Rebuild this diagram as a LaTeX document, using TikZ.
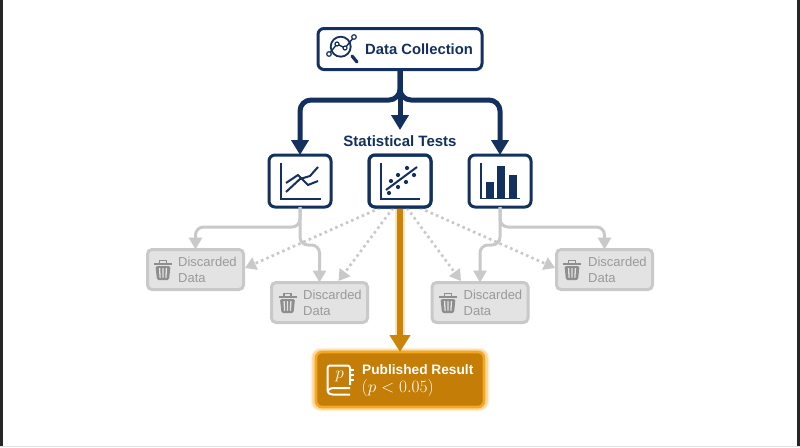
\documentclass[tikz,border=0pt]{standalone}
\usepackage{fontspec}
\setmainfont{Liberation Sans}
\usetikzlibrary{arrows.meta,calc}
\definecolor{navy}{HTML}{14305F}
\definecolor{gline}{HTML}{C9C9C9}
\definecolor{gfill}{HTML}{E3E3E3}
\definecolor{gtext}{HTML}{9A9A9A}
\definecolor{gicon}{HTML}{8E8E8E}
\definecolor{ofill}{HTML}{C47D06}
\definecolor{oline}{HTML}{F5A81F}
\definecolor{oarrow}{HTML}{CC8408}
\tikzset{
  x=1pt,y=-1pt,
  navybox/.style={draw=navy,line width=3pt,fill=white,rounded corners=6pt,outer sep=0pt,inner sep=0pt},
  chartbox/.style={navybox,minimum width=62pt,minimum height=52pt},
  discardbox/.style={draw=gline,line width=3pt,fill=gfill,rounded corners=4.5pt,outer sep=0pt,inner sep=0pt,minimum width=96pt,minimum height=40pt},
  discardtext/.style={text=gtext,font=\fontsize{13}{15.8}\selectfont,align=left,anchor=west,inner sep=0pt},
  navyarrow/.style={draw=navy,line width=5pt,rounded corners=11pt,-{Triangle[length=15pt,width=17pt]}},
  grayarrow/.style={draw=gline,line width=3pt,rounded corners=8pt,-{Triangle[length=12pt,width=13pt]}},
  dotarrow/.style={draw=gline,line width=2.6pt,dash pattern=on 2.6pt off 3.2pt,-{Triangle[length=11pt,width=13pt,fill=gline]}},
  axisline/.style={draw=navy,line width=1.8pt},
  curveline/.style={draw=navy,line width=2pt,line join=round},
  trash/.pic={
    \draw[gicon,line width=1.4pt] (-3.6,3.5) -- (-3.6,0.7) -- (3.6,0.7) -- (3.6,3.5);
    \draw[gicon,line width=2.2pt] (-9,4) -- (9,4) ;
    \fill[gicon,rounded corners=1.5pt] (-7.5,6) -- (7.5,6) -- (6,20) -- (-6,20) -- cycle;
    \draw[gfill,line width=1.3pt,line cap=round] (-3.4,8.5) -- (-2.9,17.3) (0,8.5) -- (0,17.3) (3.4,8.5) -- (2.9,17.3);
  },
}
\begin{document}
\begin{tikzpicture}
\useasboundingbox (0,0) rectangle (800,447);
\fill[white] (0,0) rectangle (800,447);
\fill[black!85] (0,0) rectangle (2.5,447);
\fill[black!85] (796.5,0) rectangle (800,447);
\fill[black!12] (0,446) rectangle (800,447);

% nodes
\node[navybox,minimum width=164pt,minimum height=41pt] (dc) at (400,49) {};
\node[chartbox] (c1) at (300,181) {};
\node[chartbox] (c2) at (400,181) {};
\node[chartbox] (c3) at (500,181) {};
\node[discardbox] (b1) at (195.5,269.5) {};
\node[discardbox] (b2) at (319.5,302.5) {};
\node[discardbox] (b3) at (480,302.5) {};
\node[discardbox] (b4) at (604.5,269.5) {};

% named helper coordinates
\coordinate (branch) at (400,100);
\coordinate (gl) at (300,227);
\coordinate (gr) at (500,227);
\coordinate (gl2) at (300,245);
\coordinate (gr2) at (500,245);

% navy connectors
\draw[navyarrow] (dc.south) -- (dc.south |- branch) -- (c1.north |- branch) -- (c1.north);
\draw[navyarrow] (dc.south) -- (dc.south |- branch) -- (c3.north |- branch) -- (c3.north);
\draw[navyarrow,rounded corners=0pt] (dc.south) -- ($(c2.north)+(0,-25)$);
\node[font=\bfseries\fontsize{15}{17}\selectfont,text=navy,inner sep=0pt] (st) at (400,141) {Statistical Tests};

% gray connectors
\draw[grayarrow] (c1.south) -- (gl) -- (b1.north |- gl) -- (b1.north);
\draw[grayarrow] (c1.south) -- (gl2) -- (b2.north |- gl2) -- (b2.north);
\draw[grayarrow] (c3.south) -- (gr) -- (b4.north |- gr) -- (b4.north);
\draw[grayarrow] (c3.south) -- (gr2) -- (b3.north |- gr2) -- (b3.north);
\draw[dotarrow] ($(c2.south)+(-20,1)$) -- ($(b1.east)+(1.5,-1.5)$);
\draw[dotarrow] ($(c2.south)+(-7,1)$) -- ($(b2.north)+(19,-1.5)$);
\draw[dotarrow] ($(c2.south)+(7,1)$) -- ($(b3.north)+(-19,-1.5)$);
\draw[dotarrow] ($(c2.south)+(20,1)$) -- ($(b4.west)+(-1.5,-1.5)$);

\node[discardtext] (t1) at (178,270) {Discarded\\Data};
\node[discardtext] (t2) at (303,303) {Discarded\\Data};
\node[discardtext] (t3) at (463.5,303) {Discarded\\Data};
\node[discardtext] (t4) at (588,270) {Discarded\\Data};
\pic at (163,260) {trash};
\pic at (287.5,293) {trash};
\pic at (448,293) {trash};
\pic at (572,260) {trash};

% orange box with glow
\foreach \w/\o in {9/0.10,7/0.15,5.5/0.25}{
  \draw[oline,line width=\w pt,opacity=\o,rounded corners=6pt] (315,352) rectangle (485,407);
}
\node[draw=oline,line width=2.6pt,fill=ofill,rounded corners=6pt,minimum width=168pt,minimum height=55pt,outer sep=0pt,inner sep=0pt] (pr) at (400,379.5) {};
\draw[oline,line width=10pt,opacity=.3] (c2.south) -- ($(pr.north)+(0,-16)$);
\draw[oarrow,line width=6pt,-{Triangle[length=17pt,width=20pt]}] (c2.south) -- (pr.north);
\draw[navy,line width=3pt,rounded corners=6pt] (c2.south west) rectangle (c2.north east);

\node[font=\bfseries\fontsize{13.7}{17}\selectfont,text=white,anchor=west,inner sep=0pt] (prt) at (362,370) {Published Result};
\node[font=\fontsize{18.6}{22}\selectfont,text=white,anchor=west,inner sep=0pt] (prm) at (361.5,388) {$(p<0.05)$};

% book icon
\begin{scope}[white,line width=2pt,line join=round]
  \draw[rounded corners=2.5pt] (350,385) -- (350,365.5) -- (327.5,365.5) -- (327.5,392) -- (330,394.5) -- (350,394.5);
  \draw[rounded corners=3pt] (350,388) -- (330,388) -- (327.5,391);
  \draw[line width=1.4pt] (350.5,370) -- (353.5,370) (350.5,375) -- (353.5,375) (350.5,380) -- (353.5,380);
  \node[text=white,font=\fontsize{19}{22}\selectfont,inner sep=0pt] (pi) at (339.5,376) {$p$};
\end{scope}

% data collection
\node[font=\bfseries\fontsize{14.8}{17}\selectfont,text=navy,anchor=west,inner sep=0pt] (dct) at (365,49) {Data Collection};
\begin{scope}[navy]
  \draw[line width=1.8pt] (340.7,46.7) circle (10);
  \draw[line width=1.4pt,line join=round] (329,54) -- (337,44) -- (345,48) -- (354,37);
  \draw[line width=3.2pt,line cap=round] (352,56) -- (357,62);
  \draw[line width=1.2pt,fill=white] (329,54) circle (2.3) (354,37) circle (2.3) (337,44) circle (2) (345,48) circle (2);
\end{scope}

% charts
\draw[axisline] (281,163) -- (281,199) -- (321,199);
\draw[curveline] (286,183) -- (298,175) -- (308,185) -- (318,181);
\draw[curveline] (286,192) -- (300,179) -- (310,176) -- (318,167);
\draw[axisline] (381,163) -- (381,199) -- (420,199);
\draw[curveline] (386,190) -- (417,167);
\foreach \px/\py in {389/193,391/181,398/175,407/168,414/175,406/182,398/187}
  \fill[navy] (\px,\py) circle (2.1);
\draw[axisline] (481,163) -- (481,198.5) -- (520,198.5);
\fill[navy] (486,182) rectangle (493.5,198);
\fill[navy] (497,166) rectangle (505,198);
\fill[navy] (509,175) rectangle (516.5,198);
\end{tikzpicture}
\end{document}
